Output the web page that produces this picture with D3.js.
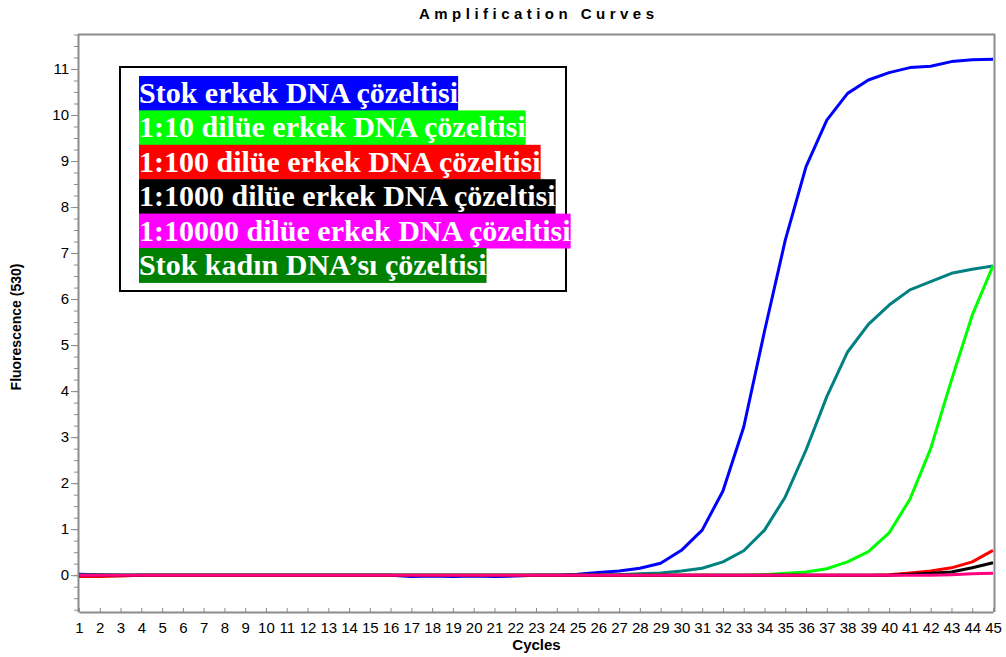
<!DOCTYPE html>
<html>
<head>
<meta charset="utf-8">
<script src="https://cdn.jsdelivr.net/npm/d3@7"></script>
<style>
  body { margin: 0; background: #fff; }
  svg { display: block; }
</style>
</head>
<body>
<div id="chart"></div>
<script>
const cycles = d3.range(1, 46);

// fluorescence per cycle (1..45)
const stokErkek = [0.02, 0.01, 0, 0, 0, 0, 0, 0, 0, 0, 0, 0, 0, 0, 0, 0, -0.03, -0.02, -0.03, -0.02, -0.03, -0.02, 0, 0, 0.02,
  0.06, 0.09, 0.15, 0.26, 0.54, 0.98, 1.83, 3.22, 5.3, 7.28, 8.88, 9.89, 10.47, 10.76, 10.92, 11.03, 11.06, 11.16, 11.2, 11.21];
const dilue10 = [0, 0, 0, 0, 0, 0, 0, 0, 0, 0, 0, 0, 0, 0, 0, 0, 0, 0, 0, 0, 0, 0, 0, 0, 0,
  0, 0, 0, 0, 0, 0, 0, 0, 0.01, 0.04, 0.07, 0.14, 0.29, 0.51, 0.92, 1.65, 2.75, 4.24, 5.65, 6.72];
const dilue100 = [-0.03, -0.03, -0.02, 0, 0, 0, 0, 0, 0, 0, 0, 0, 0, 0, 0, 0, 0, 0, 0, 0, 0, 0, 0, 0, 0,
  0, 0, 0, 0, 0, 0, 0, 0, 0, 0, 0, 0, 0, 0, 0.01, 0.05, 0.09, 0.16, 0.29, 0.54];
const dilue1000 = [0, 0, 0, 0, 0, 0, 0, 0, 0, 0, 0, 0, 0, 0, 0, 0, 0, 0, 0, 0, 0, 0, 0, 0, 0,
  0, 0, 0, 0, 0, 0, 0, 0, 0, 0, 0, 0, 0, 0, 0, 0.02, 0.04, 0.07, 0.16, 0.27];
const dilue10000 = [0, 0, 0, 0, 0, 0, 0, 0, 0, 0, 0, 0, 0, 0, 0, 0, 0, 0, 0, 0, 0, 0, 0, 0, 0,
  0, 0, 0, 0, 0, 0, 0, 0, 0, 0, 0, 0, 0, 0, 0, 0, 0, 0.01, 0.03, 0.04];
const stokKadin = [0, 0, 0, 0, 0, 0, 0, 0, 0, 0, 0, 0, 0, 0, 0, 0, 0, 0, 0, 0, 0, 0, 0, 0, 0,
  0, 0.01, 0.03, 0.05, 0.09, 0.15, 0.29, 0.53, 0.98, 1.7, 2.72, 3.88, 4.85, 5.45, 5.87, 6.2, 6.38, 6.56, 6.65, 6.72];

const legendLabels = [
  'Stok erkek DNA çözeltisi',
  '1:10 dilüe erkek DNA çözeltisi',
  '1:100 dilüe erkek DNA çözeltisi',
  '1:1000 dilüe erkek DNA çözeltisi',
  '1:10000 dilüe erkek DNA çözeltisi',
  'Stok kadın DNA’sı çözeltisi'
];
const legendColors = ['#0000ff', '#00ff00', '#ff0000', '#000000', '#ff00ff', '#008000'];

// drawing order: pink last, it sits on top along the zero line
const series = [
  { values: stokErkek, color: '#0000ff' },
  { values: stokKadin, color: '#008080' },
  { values: dilue10, color: '#00ff00' },
  { values: dilue100, color: '#ff0000' },
  { values: dilue1000, color: '#000000' },
  { values: dilue10000, color: '#ff0080' }
];

const width = 1006;
const height = 657;
const margin = { top: 34, right: 11, bottom: 45, left: 78 };
const innerWidth = width - margin.left - margin.right;
const innerHeight = height - margin.top - margin.bottom;

const xScale = d3.scaleLinear().domain([1, 45]).range([1, 915]);
const yScale = d3.scaleLinear().domain([-0.8, 11.76]).range([innerHeight, 0]);

const svg = d3.select('#chart')
  .append('svg')
  .attr('width', width)
  .attr('height', height);

const g = svg.append('g')
  .attr('transform', `translate(${margin.left},${margin.top})`);

const axisColor = '#8c8c8c';

// frame: top and right
g.append('path')
  .attr('d', `M0,0.5H${innerWidth - 0.5}V${innerHeight}`)
  .style('fill', 'none')
  .style('stroke', axisColor)
  .style('stroke-width', 2);

// y axis with quarter-step minor ticks
const yMinor = g.append('g')
  .call(d3.axisLeft(yScale).tickValues(d3.range(-0.75, 11.76, 0.25)).tickSize(4).tickFormat(''));
yMinor.select('.domain').remove();
yMinor.selectAll('line').style('stroke', axisColor);

const yAxis = g.append('g')
  .call(d3.axisLeft(yScale).tickValues(d3.range(0, 12)).tickSize(7).tickPadding(2).tickSizeOuter(0));
yAxis.select('.domain').style('stroke', axisColor).style('stroke-width', 2);
yAxis.selectAll('line').style('stroke', axisColor);
yAxis.selectAll('text')
  .style('font-family', '"Liberation Sans", Arial, sans-serif')
  .style('font-size', '15px')
  .style('fill', '#000');

// x axis, ticks point up into the plot
const xAxis = g.append('g')
  .attr('transform', `translate(0,${innerHeight})`)
  .call(d3.axisBottom(xScale).tickValues(cycles).tickSizeInner(-4).tickSizeOuter(0).tickPadding(10));
xAxis.select('.domain').style('stroke', axisColor).style('stroke-width', 2);
xAxis.selectAll('line').style('stroke', axisColor);
xAxis.selectAll('text')
  .style('font-family', '"Liberation Sans", Arial, sans-serif')
  .style('font-size', '15px')
  .style('fill', '#000');

// curves
const line = d3.line()
  .x((d, i) => xScale(cycles[i]))
  .y(d => yScale(d));

series.forEach(s => {
  g.append('path')
    .datum(s.values)
    .attr('d', line)
    .style('fill', 'none')
    .style('stroke', s.color)
    .style('stroke-width', 3)
    .style('stroke-linejoin', 'round');
});

// titles
svg.append('text')
  .attr('x', margin.left + innerWidth / 2)
  .attr('y', 19)
  .attr('text-anchor', 'middle')
  .attr('textLength', 235)
  .attr('lengthAdjust', 'spacing')
  .style('font-family', '"Liberation Sans", Arial, sans-serif')
  .style('font-weight', 'bold')
  .style('font-size', '15px')
  .text('Amplification Curves');

svg.append('text')
  .attr('x', margin.left + innerWidth / 2)
  .attr('y', 650)
  .attr('text-anchor', 'middle')
  .style('font-family', '"Liberation Sans", Arial, sans-serif')
  .style('font-weight', 'bold')
  .style('font-size', '15px')
  .text('Cycles');

svg.append('text')
  .attr('transform', 'translate(21,327) rotate(-90)')
  .attr('text-anchor', 'middle')
  .style('font-family', '"Liberation Sans", Arial, sans-serif')
  .style('font-weight', 'bold')
  .style('font-size', '14px')
  .text('Fluorescence (530)');

// legend
const legend = svg.append('g');
legend.append('rect')
  .attr('x', 120)
  .attr('y', 67)
  .attr('width', 446)
  .attr('height', 224)
  .style('fill', '#fff')
  .style('stroke', '#000')
  .style('stroke-width', 2);

const rowH = 34.4;
legendLabels.forEach((label, i) => {
  const row = legend.append('g')
    .attr('transform', `translate(139,${76 + i * rowH})`);
  const bg = row.append('rect')
    .attr('height', rowH + 0.5)
    .style('fill', legendColors[i]);
  const t = row.append('text')
    .attr('x', 0)
    .attr('y', 27)
    .style('font-family', '"Liberation Serif", "Times New Roman", serif')
    .style('font-weight', 'bold')
    .style('font-size', '30px')
    .style('fill', '#fff')
    .text(label);
  bg.attr('width', t.node().getComputedTextLength());
});
</script>
</body>
</html>
